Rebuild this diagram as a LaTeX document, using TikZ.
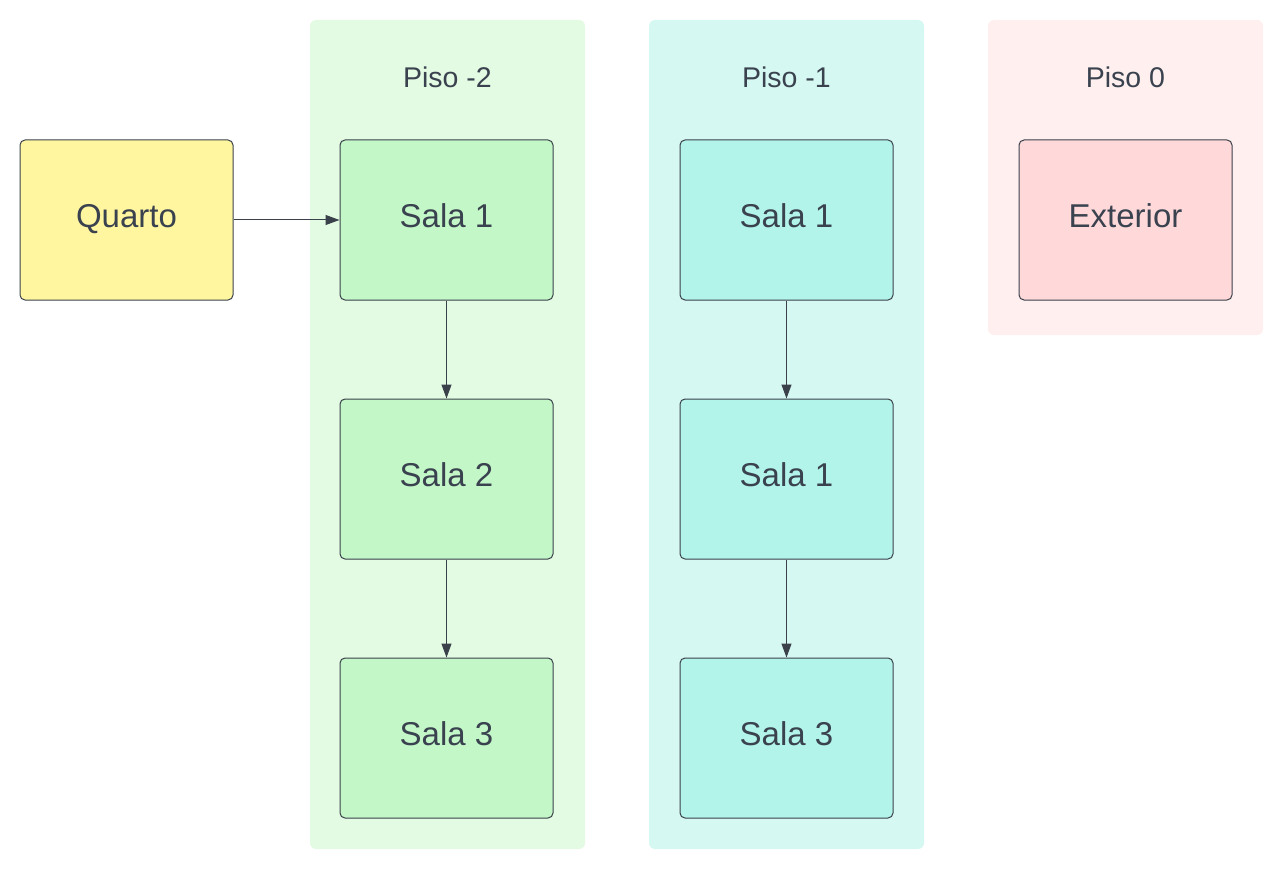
\documentclass[tikz,border=0pt]{standalone}
\usepackage{fontspec}
\setmainfont{Liberation Sans}
\usetikzlibrary{arrows.meta}
\definecolor{txt}{HTML}{39424E}
\definecolor{edge}{HTML}{3A414A}
\definecolor{yel}{HTML}{FFF69F}
\definecolor{grpG}{HTML}{E3FAE3}
\definecolor{boxG}{HTML}{C3F7C8}
\definecolor{grpC}{HTML}{D6F8F2}
\definecolor{boxC}{HTML}{B3F4EA}
\definecolor{grpR}{HTML}{FFEFEE}
\definecolor{boxR}{HTML}{FFD9DA}
\tikzset{
  room/.style={draw=edge, line width=1pt, rounded corners=5pt, minimum width=213pt, minimum height=160pt, inner sep=0pt, text=txt, font=\fontsize{33}{38}\selectfont},
  grp/.style={rounded corners=6pt},
  title/.style={text=txt, font=\fontsize{28.5}{33}\selectfont, inner sep=0pt},
  conn/.style={draw=edge, line width=1pt, -{Triangle[length=14pt,width=10pt]}}
}
\begin{document}
\begin{tikzpicture}[x=1pt,y=-1pt]
\useasboundingbox (0,0) rectangle (1283,869);
% groups
\fill[grpG, grp] (310,20) rectangle (585,849);
\fill[grpC, grp] (649,20) rectangle (924,849);
\fill[grpR, grp] (988,20) rectangle (1263,335);
\node[title] (t2) at (447.5,77) {Piso -2};
\node[title] (t1) at (786.5,77) {Piso -1};
\node[title] (t0) at (1125.5,77) {Piso 0};
% rooms
\node[room, fill=yel] (q) at (126.5,220) {\raisebox{8pt}{Quarto}};
\node[room, fill=boxG] (a1) at (446.5,220) {\raisebox{8pt}{Sala 1}};
\node[room, fill=boxG] (a2) at (446.5,479) {\raisebox{8pt}{Sala 2}};
\node[room, fill=boxG] (a3) at (446.5,738) {\raisebox{8pt}{Sala 3}};
\node[room, fill=boxC] (b1) at (786.5,220) {\raisebox{8pt}{Sala 1}};
\node[room, fill=boxC] (b2) at (786.5,479) {\raisebox{8pt}{Sala 1}};
\node[room, fill=boxC] (b3) at (786.5,738) {\raisebox{8pt}{Sala 3}};
\node[room, fill=boxR] (e) at (1125.5,220) {\raisebox{8pt}{Exterior}};
% connectors
\draw[conn] (q.east) -- (a1.west);
\draw[conn] (a1.south) -- (a2.north);
\draw[conn] (a2.south) -- (a3.north);
\draw[conn] (b1.south) -- (b2.north);
\draw[conn] (b2.south) -- (b3.north);
\end{tikzpicture}
\end{document}
